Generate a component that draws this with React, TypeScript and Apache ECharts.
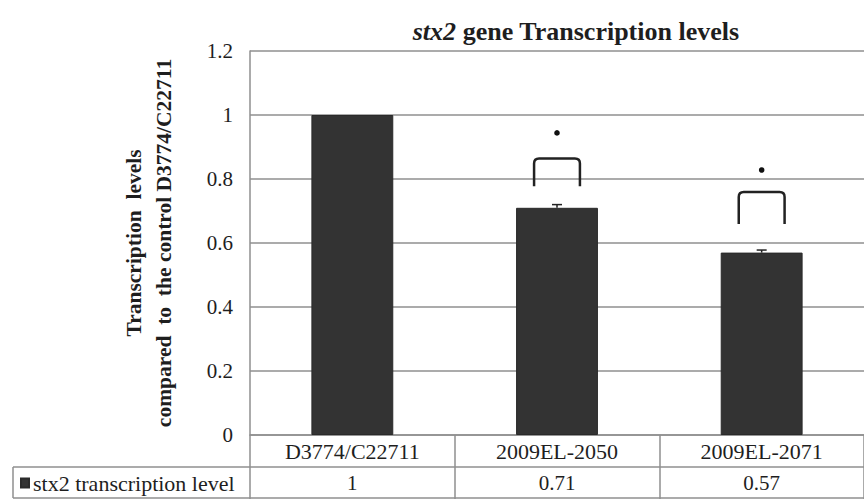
import React, { useEffect, useRef } from "react";
import * as echarts from "echarts";

const categories = ["D3774/C22711", "2009EL-2050", "2009EL-2071"];
const values = [1, 0.71, 0.57];
const errors = [0, 0.01, 0.008];
const sigBottom = [null, 0.777, 0.659];
const sigTop = [null, 0.864, 0.759];
const sigDot = [null, 0.944, 0.828];
const yTicks = { min: 0, max: 1.2, interval: 0.2 };
const seriesName = "stx2 transcription level";

const FONT = "Liberation Serif";
const GRID = "#8f8f8f";
const TXT = "#1e1e1e";

export default function App() {
  const ref = useRef<HTMLDivElement>(null);
  useEffect(() => {
    document.body.style.margin = "0";
    const chart = echarts.init(ref.current!, null, { renderer: "svg" });
    const sigData = categories
      .map((_, i) => [i, sigBottom[i], sigTop[i], sigDot[i]])
      .filter((d) => d[1] != null);
    const errData = categories
      .map((_, i) => [i, values[i], values[i] + errors[i]])
      .filter((d, i) => errors[i] > 0);
    chart.setOption({
      animation: false,
      backgroundColor: "#ffffff",
      title: {
        text: "{i|stx2} gene Transcription levels",
        left: 571,
        top: 13,
        textAlign: "center",
        textStyle: {
          fontFamily: FONT,
          fontSize: 26,
          fontWeight: "bold",
          color: TXT,
          rich: {
            i: { fontFamily: FONT, fontSize: 26, fontWeight: "bold", fontStyle: "italic", color: TXT },
          },
        },
      },
      legend: {
        data: [{ name: seriesName, icon: "rect" }],
        left: 20,
        top: 472,
        itemWidth: 8,
        itemHeight: 9,
        itemGap: 4,
        padding: 0,
        selectedMode: false,
        textStyle: { fontFamily: FONT, fontSize: 22, color: TXT, padding: [0, 0, 0, -1] },
      },
      grid: { left: 250, top: 51, bottom: 64, right: -10, containLabel: false },
      xAxis: [
        {
          type: "category",
          data: categories,
          position: "bottom",
          axisLine: { show: true, lineStyle: { color: GRID, width: 1.5 } },
          axisTick: { show: true, length: 64, lineStyle: { color: GRID, width: 1.5 } },
          axisLabel: { fontFamily: FONT, fontSize: 22, color: TXT, margin: 5 },
          splitLine: { show: false },
        },
        {
          type: "category",
          data: values.map((v) => String(v)),
          position: "bottom",
          offset: 32,
          axisLine: { show: false },
          axisTick: { show: false },
          axisLabel: { fontFamily: FONT, fontSize: 21, color: TXT, margin: 5 },
          splitLine: { show: false },
        },
      ],
      yAxis: {
        type: "value",
        min: yTicks.min,
        max: yTicks.max,
        interval: yTicks.interval,
        name: "Transcription  levels\ncompared  to  the control D3774/C22711",
        nameLocation: "middle",
        nameRotate: 90,
        nameGap: 71,
        nameTextStyle: { fontFamily: FONT, fontSize: 21.5, fontWeight: "bold", color: TXT, lineHeight: 30 },
        axisLine: { show: true, lineStyle: { color: GRID, width: 1.5 } },
        axisTick: { show: false },
        axisLabel: { fontFamily: FONT, fontSize: 21, color: TXT, margin: 17 },
        splitLine: { show: true, lineStyle: { color: GRID, width: 1.5 } },
      },
      graphic: [
        { type: "line", shape: { x1: 13, y1: 467, x2: 874, y2: 467 }, style: { stroke: GRID, lineWidth: 1.5 } },
        { type: "line", shape: { x1: 13, y1: 498, x2: 874, y2: 498 }, style: { stroke: GRID, lineWidth: 1.5 } },
        { type: "line", shape: { x1: 13, y1: 467, x2: 13, y2: 498 }, style: { stroke: GRID, lineWidth: 1.5 } },
      ],
      series: [
        {
          name: seriesName,
          type: "bar",
          data: values,
          barWidth: "40%",
          itemStyle: { color: "#333333", borderColor: "#2a2a2a", borderWidth: 1 },
        },
        {
          type: "custom",
          data: errData,
          encode: { x: 0, y: [1, 2] },
          z: 5,
          renderItem: (params: any, api: any) => {
            const x = api.coord([api.value(0), 0])[0];
            const y1 = api.coord([api.value(0), api.value(1)])[1];
            const y2 = api.coord([api.value(0), api.value(2)])[1];
            return {
              type: "group",
              children: [
                { type: "line", shape: { x1: x, y1, x2: x, y2 }, style: { stroke: "#222", lineWidth: 1.5 } },
                { type: "line", shape: { x1: x - 5, y1: y2, x2: x + 5, y2 }, style: { stroke: "#222", lineWidth: 1.5 } },
              ],
            };
          },
        },
        {
          type: "custom",
          data: sigData,
          encode: { x: 0, y: [1, 2, 3] },
          z: 5,
          renderItem: (params: any, api: any) => {
            const cx = api.coord([api.value(0), 0])[0];
            const hw = api.size([1, 0])[0] * 0.112;
            const yb = api.coord([api.value(0), api.value(1)])[1];
            const yt = api.coord([api.value(0), api.value(2)])[1];
            const yd = api.coord([api.value(0), api.value(3)])[1];
            const r = 5;
            const l = cx - hw;
            const rr = cx + hw;
            const d = `M${l},${yb} L${l},${yt + r} Q${l},${yt} ${l + r},${yt} L${rr - r},${yt} Q${rr},${yt} ${rr},${yt + r} L${rr},${yb}`;
            return {
              type: "group",
              children: [
                { type: "path", shape: { pathData: d }, style: { stroke: "#222", fill: "none", lineWidth: 2.5 } },
                { type: "circle", shape: { cx, cy: yd, r: 2.8 }, style: { fill: "#111" } },
              ],
            };
          },
        },
      ],
    });
    return () => chart.dispose();
  }, []);
  return <div ref={ref} style={{ width: 864, height: 499 }} />;
}
